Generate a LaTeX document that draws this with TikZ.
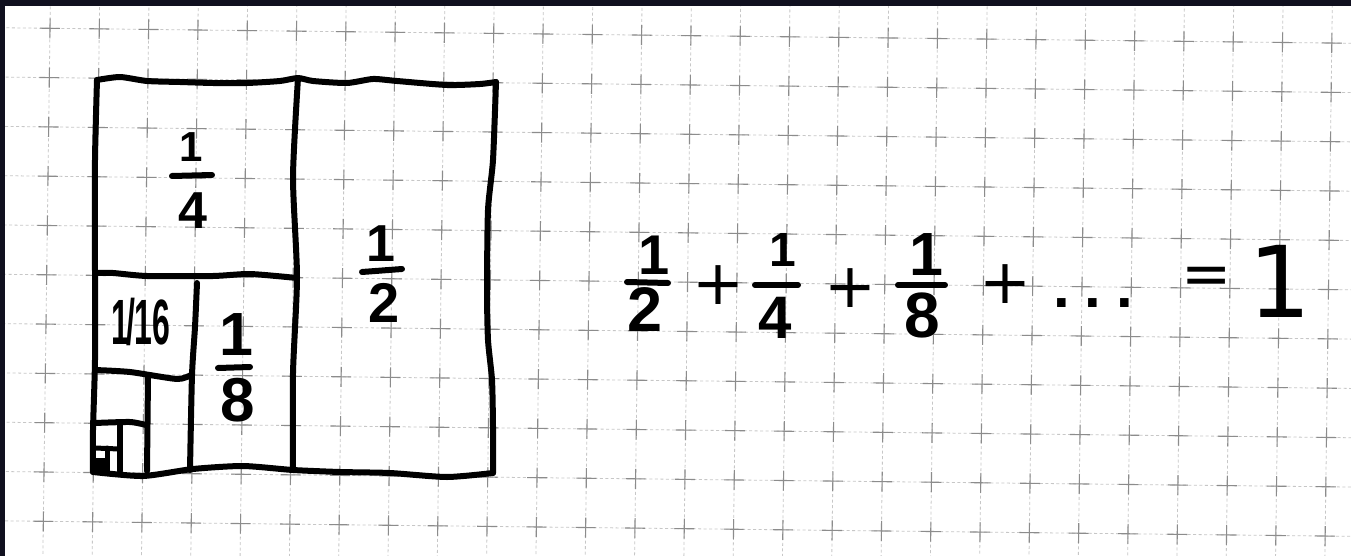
\documentclass[tikz,border=0pt]{standalone}
\usepackage{fontspec}
\usepackage{graphicx}
\newfontfamily\hand{Liberation Sans}
\newfontfamily\handbig{DejaVu Sans}
\usetikzlibrary{calc}
\definecolor{framecol}{HTML}{10101F}
\begin{document}
\begin{tikzpicture}[x=1pt,y=-1pt,
  pen/.style={line width=6pt, line cap=round, line join=round},
  gridln/.style={black!22, line width=0.8pt, dash pattern=on 3pt off 2.5pt},
  crossln/.style={black!45, line width=1.1pt},
  dg/.style={inner sep=0pt, outer sep=0pt, font=\hand\bfseries\fontsize{#1}{#1}\selectfont}]
\useasboundingbox (0,0) rectangle (1351,556);
\fill[white] (0,0) rectangle (1351,556);
% grid paper
\begin{scope}
\clip (0,0) rectangle (1351,556);
\foreach \k in {0,...,27}{
  \draw[gridln] ({50.0+49.3*\k+0.666},{28.3-49.3+0.567*\k}) -- ({50.0+49.3*\k-0.666*12},{28.3+49.3*12+0.567*\k});
}
\foreach \j in {0,...,11}{
  \draw[gridln] ({50.0-49.3*2-0.666*\j},{28.3+49.3*\j-0.567*2}) -- ({50.0+49.3*28-0.666*\j},{28.3+49.3*\j+0.567*28});
}
\foreach \k in {0,...,27}{
  \foreach \j in {0,...,10}{
    \pgfmathsetmacro{\px}{50.0+49.3*\k-0.666*\j}
    \pgfmathsetmacro{\py}{28.3+49.3*\j+0.567*\k}
    \draw[crossln] ({\px-10},{\py-0.12}) -- ({\px+10},{\py+0.12});
    \draw[crossln] ({\px+0.13},{\py-10}) -- ({\px-0.13},{\py+10});
  }
}
\end{scope}
% dark scan border
\fill[framecol] (0,0) rectangle (1351,6);
\fill[framecol] (0,0) rectangle (5,556);

% outer square
\draw[pen] plot[smooth, tension=0.4] coordinates {(97,80) (120,77) (147,81) (180,82) (213,83) (247,83) (280,81) (298,78) (313,81) (347,83) (373,79) (397,81) (447,85) (480,84) (496,82)};
\draw[pen] plot[smooth, tension=0.4] coordinates {(496,82) (493,160) (488,210) (487,290) (488,340) (492,380) (493,427) (493,473)};
\draw[pen] plot[smooth, tension=0.4] coordinates {(493,473) (447,477) (390,473) (340,472) (293,470) (243,466) (193,469) (143,476) (93,472)};
\draw[pen] plot[smooth, tension=0.4] coordinates {(93,472) (93,430) (95,360) (95,273) (95,160) (97,80)};
% half divider
\draw[pen] plot[smooth, tension=0.4] coordinates {(298,78) (293,177) (297,277) (293,373) (293,470)};
% quarter divider
\draw[pen] plot[smooth, tension=0.4] coordinates {(95,273) (113,273) (147,276) (213,276) (250,274) (297,278)};
% eighth divider
\draw[pen] plot[smooth, tension=0.4] coordinates {(197,283) (195,327) (192,375) (190,470)};
% sixteenth divider
\draw[pen] plot[smooth, tension=0.4] coordinates {(95,370) (130,372) (177,379) (191,375)};
% smaller ones
\draw[pen] (148,377) -- (147,471);
\draw[pen] plot[smooth, tension=0.4] coordinates {(95,423) (130,422) (146,425)};
\draw[pen] (120,424) -- (120,471);
\draw[line width=5pt, line cap=round] (95,448) -- (119,449);
\draw[line width=5pt, line cap=round] (107,448) -- (107,471);
\draw[line width=3pt] (95,459) -- (107,459);
\fill (91,461) rectangle (105,474);

% labels inside the square
\node[dg=42] (q1) at (191,147) {1};
\node[dg=52] (q4) at (193,211) {4};
\draw[pen] (172,176) -- (212,175);
\node[dg=52] (h1) at (381,244) {1};
\node[dg=56] (h2) at (384,303) {2};
\draw[pen] (362,272) -- (402,269);
\node[dg=61] (e1) at (236,335) {1};
\node[dg=62] (e8) at (238,400) {8};
\draw[pen] (218,368) -- (250,367);
\node[inner sep=0pt, font=\hand\bfseries\fontsize{64}{64}\selectfont] (s16) at (141,322) {\scalebox{0.5}[1]{1\kern-0.1em/\kern-0.02em16}};

% equation
\node[dg=56] (a1) at (654,255) {1};
\node[dg=63] (a2) at (645,310) {2};
\draw[pen] (627,282) -- (668,283);
\node[inner sep=0pt, font=\handbig\fontsize{62}{62}\selectfont] (p1) at (718,285) {+};
\node[dg=48] (b1) at (783,250) {1};
\node[dg=60] (b4) at (775,318) {4};
\draw[pen] (755,285) -- (798,285);
\node[inner sep=0pt, font=\handbig\fontsize{62}{62}\selectfont] (p2) at (850,288) {+};
\node[dg=61] (c1) at (926,255) {1};
\node[dg=64] (c8) at (922,315) {8};
\draw[pen] (898,285) -- (945,285);
\node[inner sep=0pt, font=\handbig\fontsize{62}{62}\selectfont] (p3) at (1005,284) {+};
\node[dg=60] (dots) at (1093,303) {.\kern15pt.\kern15pt.};
\node[inner sep=0pt, font=\handbig\fontsize{60}{60}\selectfont] (eq) at (1207,281) {=};
\node[inner sep=0pt, font=\handbig\fontsize{99}{99}\selectfont] (one) at (1280,281) {1};
\end{tikzpicture}
\end{document}
